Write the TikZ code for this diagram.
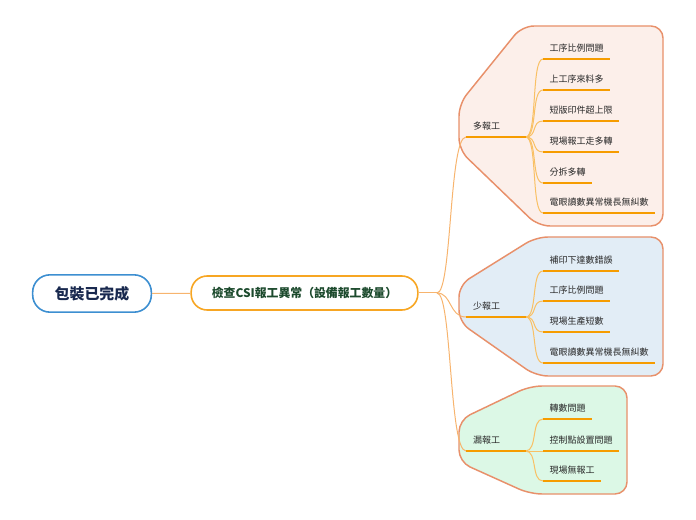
\documentclass[tikz,border=0pt]{standalone}
\usepackage{fontspec}
\setmainfont{Noto Sans CJK TC}
\definecolor{rootblue}{RGB}{61,143,209}
\definecolor{rootink}{RGB}{24,40,78}
\definecolor{mainorange}{RGB}{247,166,35}
\definecolor{mainink}{RGB}{28,74,45}
\definecolor{groupedge}{RGB}{232,144,106}
\definecolor{pinkfill}{RGB}{252,239,234}
\definecolor{bluefill}{RGB}{226,237,246}
\definecolor{greenfill}{RGB}{220,248,230}
\definecolor{barorange}{RGB}{246,156,0}
\definecolor{twigorange}{RGB}{249,192,100}
\definecolor{limborange}{RGB}{247,180,110}
\definecolor{leafink}{RGB}{40,40,40}

\tikzset{every picture/.style={line width=0.75pt}}
\tikzset{
  rootbox/.style={draw=rootblue, line width=1.2pt, rounded corners=13pt, minimum width=89pt, minimum height=28pt, text=rootink, font=\fontsize{11.2}{13}\selectfont\bfseries},
  mainbox/.style={draw=mainorange, line width=1.2pt, rounded corners=12pt, minimum width=170pt, minimum height=25.5pt, text=mainink, font=\fontsize{8.9}{10}\selectfont\bfseries},
  topic/.style={anchor=south west, inner xsep=5pt, inner ysep=4.5pt, text width=34pt, align=left, text=leafink, font=\fontsize{6.75}{8}\selectfont},
  leaf/.style={anchor=south west, inner xsep=4.5pt, inner ysep=4.5pt, text=leafink, font=\fontsize{6.75}{8}\selectfont},
  uline/.style={draw=barorange, line width=2pt},
  twig/.style={draw=twigorange, line width=0.75pt},
  limb/.style={draw=limborange, line width=0.75pt},
  group/.style={draw=groupedge, line width=1.1pt, rounded corners=9pt}
}

\begin{document}
\begin{tikzpicture}[x=0.75pt,y=0.75pt,yscale=-1,xscale=1]
		\useasboundingbox (0,0) rectangle (696,520);

		%Shape: Group [id:pink] 
		\draw [group, fill=pinkfill] (522,26) -- (663,26) -- (663,226) -- (538,226) -- (459,150) -- (459,104) -- cycle ;
		%Shape: Group [id:blue] 
		\draw [group, fill=bluefill] (536,237) -- (663,237) -- (663,376) -- (536,376) -- (459,322) -- (459,285) -- cycle ;
		%Shape: Group [id:green] 
		\draw [group, fill=greenfill] (530,386) -- (627,386) -- (627,494) -- (530,494) -- (459,462) -- (459,420) -- cycle ;

		% Text Node
		\node [rootbox] (root) at (92,293.5) {包裝已完成};
		% Text Node
		\node [mainbox] (main) at (304.5,293) {檢查CSI報工異常（設備報工數量）};
		\coordinate (fork) at (437,293);

		%Straight Lines
		\draw [limb]  (root) -- (main) ;
		\draw [limb]  (main) -- (fork) ;

		% Text Node
		\node [topic] (more) at (466,137) {多報工};
		\node [topic] (less) at (466,317) {少報工};
		\node [topic] (miss) at (466,451) {漏報工};

		%Curve Lines
		\draw [limb]  (fork) .. controls (452,293) and (449,137) .. (more.south west) ;
		\draw [limb]  (fork) .. controls (452,293) and (449,317) .. (less.south west) ;
		\draw [limb]  (fork) .. controls (452,293) and (449,451) .. (miss.south west) ;

		% Text Node
		\node [leaf] (more1) at (543,59) {工序比例問題};
		\node [leaf] (more2) at (543,90) {上工序來料多};
		\node [leaf] (more3) at (543,121) {短版印件超上限};
		\node [leaf] (more4) at (543,152) {現場報工走多轉};
		\node [leaf] (more5) at (543,183) {分拆多轉};
		\node [leaf] (more6) at (543,213) {電眼讀數異常機長無糾數};

		% Text Node
		\node [leaf] (less1) at (543,271) {補印下達數錯誤};
		\node [leaf] (less2) at (543,301) {工序比例問題};
		\node [leaf] (less3) at (543,332) {現場生產短數};
		\node [leaf] (less4) at (543,363) {電眼讀數異常機長無糾數};

		% Text Node
		\node [leaf] (miss1) at (543,419) {轉數問題};
		\node [leaf] (miss2) at (543,451) {控制點設置問題};
		\node [leaf] (miss3) at (543,481) {現場無報工};

		%Curve Lines
		\draw [twig]  (more.south east) .. controls +(12,0) and +(-12,0) .. (more1.south west) ;
		\draw [twig]  (more.south east) .. controls +(12,0) and +(-12,0) .. (more2.south west) ;
		\draw [twig]  (more.south east) .. controls +(12,0) and +(-12,0) .. (more3.south west) ;
		\draw [twig]  (more.south east) .. controls +(12,0) and +(-12,0) .. (more4.south west) ;
		\draw [twig]  (more.south east) .. controls +(12,0) and +(-12,0) .. (more5.south west) ;
		\draw [twig]  (more.south east) .. controls +(12,0) and +(-12,0) .. (more6.south west) ;
		\draw [twig]  (less.south east) .. controls +(12,0) and +(-12,0) .. (less1.south west) ;
		\draw [twig]  (less.south east) .. controls +(12,0) and +(-12,0) .. (less2.south west) ;
		\draw [twig]  (less.south east) .. controls +(12,0) and +(-12,0) .. (less3.south west) ;
		\draw [twig]  (less.south east) .. controls +(12,0) and +(-12,0) .. (less4.south west) ;
		\draw [twig]  (miss.south east) .. controls +(12,0) and +(-12,0) .. (miss1.south west) ;
		\draw [twig]  (miss.south east) -- (miss2.south west) ;
		\draw [twig]  (miss.south east) .. controls +(12,0) and +(-12,0) .. (miss3.south west) ;

		%Straight Lines
		\draw [uline]  (more.south west) -- (more.south east) ;
		\draw [uline]  (less.south west) -- (less.south east) ;
		\draw [uline]  (miss.south west) -- (miss.south east) ;
		\draw [uline]  (more1.south west) -- (more1.south east) ;
		\draw [uline]  (more2.south west) -- (more2.south east) ;
		\draw [uline]  (more3.south west) -- (more3.south east) ;
		\draw [uline]  (more4.south west) -- (more4.south east) ;
		\draw [uline]  (more5.south west) -- (more5.south east) ;
		\draw [uline]  (more6.south west) -- (more6.south east) ;
		\draw [uline]  (less1.south west) -- (less1.south east) ;
		\draw [uline]  (less2.south west) -- (less2.south east) ;
		\draw [uline]  (less3.south west) -- (less3.south east) ;
		\draw [uline]  (less4.south west) -- (less4.south east) ;
		\draw [uline]  (miss1.south west) -- (miss1.south east) ;
		\draw [uline]  (miss2.south west) -- (miss2.south east) ;
		\draw [uline]  (miss3.south west) -- (miss3.south east) ;
	\end{tikzpicture}
\end{document}
